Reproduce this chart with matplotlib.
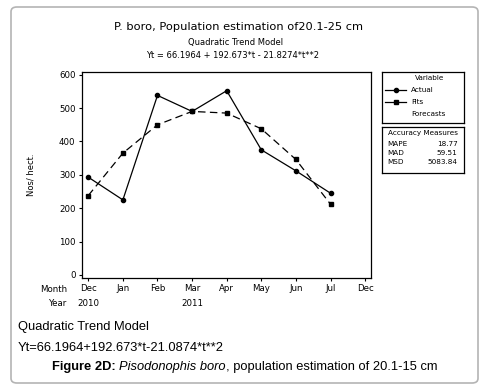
import numpy as np
from matplotlib import pyplot as plt
from matplotlib.patches import FancyBboxPatch
from matplotlib.lines import Line2D

# data
t = [1, 2, 3, 4, 5, 6, 7, 8]
actual = [293, 225, 538, 490, 552, 375, 312, 245]
fits = [238, 365, 450, 490, 485, 438, 346, 212]
tick_pos = [1, 2, 3, 4, 5, 6, 7, 8, 9]
month_labels = ['Dec', 'Jan', 'Feb', 'Mar', 'Apr', 'May', 'Jun', 'Jul', 'Dec']
year_pos = [1, 4]
year_labels = ['2010', '2011']
measure_names = ['MAPE', 'MAD', 'MSD']
measure_values = ['18.77', '59.51', '5083.84']

W, H = 486, 389
plt.rcParams['font.family'] = 'DejaVu Sans'
fig = plt.figure(figsize=(W / 100, H / 100), dpi=100)

def fx(px):
    return px / W

def fy(py):
    return 1 - py / H

# outer rounded frame
fig.patches.append(FancyBboxPatch((fx(11), fy(383)), fx(467), 376 / H,
                                  boxstyle='round,pad=0,rounding_size=0.012',
                                  transform=fig.transFigure, fill=False,
                                  edgecolor='#b4b4b4', linewidth=1.2))

# titles
fig.text(fx(238), fy(27), 'P. boro, Population estimation of20.1-25 cm',
         ha='center', va='center', fontsize=8.2)
fig.text(fx(236), fy(42), 'Quadratic Trend Model', ha='center', va='center', fontsize=6)
fig.text(fx(233), fy(55), 'Yt = 66.1964 + 192.673*t - 21.8274*t**2',
         ha='center', va='center', fontsize=6)

# main axes
ax = fig.add_axes([fx(81.7), fy(278), fx(371 - 81.7), (278 - 71.7) / H])
ax.plot(t, actual, color='black', lw=0.9, marker='o', ms=3)
ax.plot(t, fits, color='black', lw=0.9, marker='s', ms=3.3, dashes=(6, 3.5))
ax.set_xlim(0.81, 9.17)
ax.set_ylim(-9, 609)
ax.set_yticks([0, 100, 200, 300, 400, 500, 600])
ax.set_xticks(tick_pos)
ax.set_xticklabels(month_labels)
ax.tick_params(labelsize=6.2, length=2.5, width=0.8, pad=2)
for s in ax.spines.values():
    s.set_linewidth(0.9)
ax.set_ylabel('Nos/ hect.', fontsize=6, labelpad=17)

trans = ax.get_xaxis_transform()
for xp, yl in zip(year_pos, year_labels):
    ax.text(xp, -0.125, yl, transform=trans, ha='center', va='center', fontsize=6.2)
fig.text(fx(67), fy(289), 'Month', ha='right', va='center', fontsize=6.2)
fig.text(fx(67), fy(304), 'Year', ha='right', va='center', fontsize=6.2)

# legend box (Variable)
lg = fig.add_axes([fx(381.7), fy(122.7), fx(464 - 381.7), 51 / H])
lg.set_xlim(0, 1)
lg.set_ylim(0, 1)
lg.set_xticks([])
lg.set_yticks([])
for s in lg.spines.values():
    s.set_linewidth(0.9)
lg.text(0.58, 0.87, 'Variable', ha='center', va='center', fontsize=5.2)
lg.add_line(Line2D([0.04, 0.17, 0.29], [0.65, 0.65, 0.65], color='black',
                   lw=0.9, marker='o', ms=3, markevery=[1]))
lg.add_line(Line2D([0.04, 0.17, 0.29], [0.40, 0.40, 0.40], color='black',
                   lw=0.9, marker='s', ms=3.3, markevery=[1]))
lg.text(0.36, 0.65, 'Actual', ha='left', va='center', fontsize=5.2)
lg.text(0.36, 0.40, 'Fits', ha='left', va='center', fontsize=5.2)
lg.text(0.36, 0.18, 'Forecasts', ha='left', va='center', fontsize=5.2)

# accuracy measures box
am = fig.add_axes([fx(381.7), fy(173), fx(464 - 381.7), (173 - 126.7) / H])
am.set_xlim(0, 1)
am.set_ylim(0, 1)
am.set_xticks([])
am.set_yticks([])
for s in am.spines.values():
    s.set_linewidth(0.9)
am.text(0.5, 0.86, 'Accuracy Measures', ha='center', va='center', fontsize=5.2)
for i, (n, v) in enumerate(zip(measure_names, measure_values)):
    yy = 0.62 - i * 0.19
    am.text(0.07, yy, n, ha='left', va='center', fontsize=5.2)
    am.text(0.92, yy, v, ha='right', va='center', fontsize=5.2)

# caption below
cap = 'Liberation Sans'
fig.text(fx(18), fy(327), 'Quadratic Trend Model', ha='left', va='center',
         fontsize=9.3, family=cap)
fig.text(fx(18), fy(348), 'Yt=66.1964+192.673*t-21.0874*t**2', ha='left', va='center',
         fontsize=9.3, family=cap)
t1 = fig.text(fx(52), fy(367), 'Figure 2D: ', ha='left', va='center',
              fontsize=9.3, family=cap, weight='bold')
t2 = fig.text(0, 0, 'Pisodonophis boro', fontsize=9.3, family=cap, style='italic')
t3 = fig.text(0, 0, ', population estimation of 20.1-15 cm', fontsize=9.3, family=cap)

# chain caption pieces
fig.canvas.draw()
r = fig.canvas.get_renderer()
bb = t1.get_window_extent(r)
t2.set_position((bb.x1 / fig.bbox.width, fy(367)))
t2.set_va('center')
fig.canvas.draw()
bb2 = t2.get_window_extent(r)
t3.set_position((bb2.x1 / fig.bbox.width, fy(367)))
t3.set_va('center')

fig.savefig('out.png', dpi=100)
